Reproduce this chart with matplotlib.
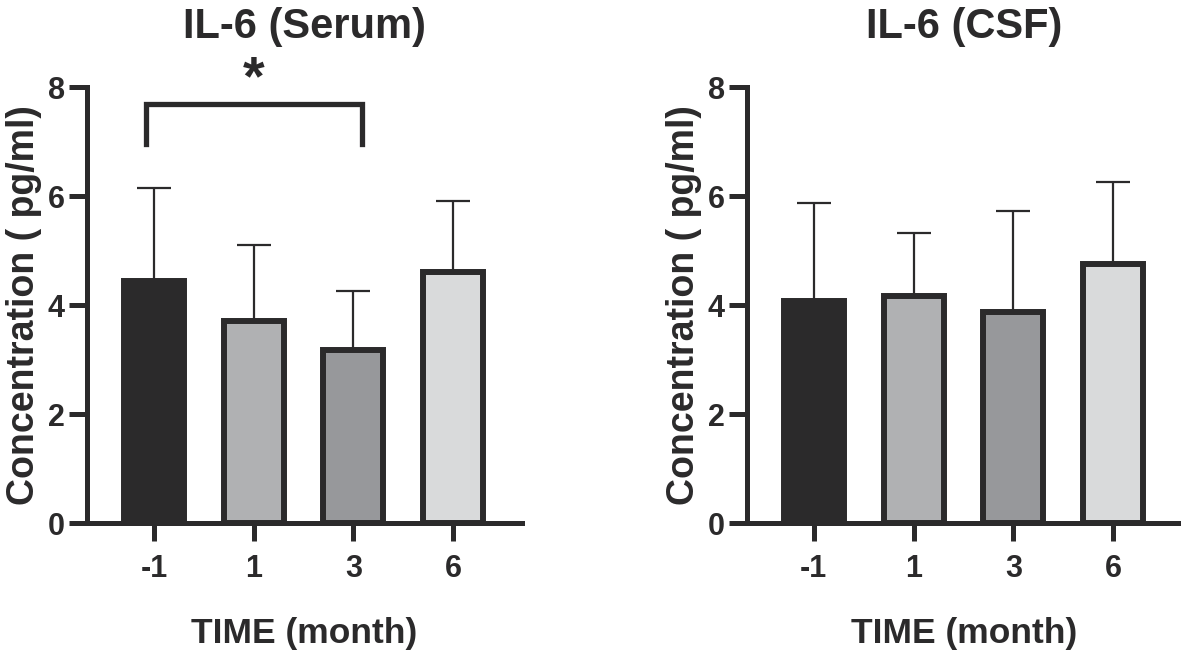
import matplotlib
matplotlib.use('Agg')
import matplotlib.pyplot as plt
import numpy as np

plt.rcParams['font.family'] = ['Liberation Sans', 'DejaVu Sans']
plt.rcParams['font.weight'] = 'bold'

# data
months = ['-1', '1', '3', '6']
serum_mean = [4.45, 3.71, 3.18, 4.60]
serum_sd = [1.70, 1.39, 1.08, 1.31]
csf_mean = [4.08, 4.17, 3.88, 4.76]
csf_sd = [1.79, 1.15, 1.84, 1.50]

bar_colors = ['#2b2a2b', '#b0b1b3', '#97989b', '#d9dadb']
ink = '#2b2a2b'

fig = plt.figure(figsize=(11.81, 6.51), dpi=100)
ax1 = fig.add_axes([0.0737, 0.1966, 0.3683, 0.6697])
ax2 = fig.add_axes([0.6325, 0.1966, 0.3683, 0.6697])


def draw_panel(ax, means, sds, title):
    x = np.arange(len(months))
    ax.errorbar(x, means, yerr=[np.zeros(len(sds)), sds], fmt='none',
                ecolor=ink, elinewidth=1.6, capsize=12, capthick=1.6, zorder=1)
    ax.bar(x, means, width=0.6, color=bar_colors, edgecolor=ink,
           linewidth=4.3, zorder=2)
    ax.set_xlim(-0.67, 3.69)
    ax.set_ylim(0, 8)
    ax.set_yticks([0, 2, 4, 6, 8])
    ax.set_xticks(x)
    ax.set_xticklabels(months)
    for s in ['top', 'right']:
        ax.spines[s].set_visible(False)
    for s in ['left', 'bottom']:
        ax.spines[s].set_linewidth(3.6)
        ax.spines[s].set_color(ink)
    ax.tick_params(axis='both', width=3.6, length=13, color=ink,
                   labelsize=22, labelcolor=ink)
    ax.tick_params(axis='y', pad=3)
    ax.tick_params(axis='x', pad=9)
    ax.set_title(title, fontsize=30, fontweight='bold', color=ink, pad=35)
    ax.set_xlabel('TIME (month)', fontsize=25.5, fontweight='bold', color=ink,
                  labelpad=24)
    ax.set_ylabel('Concentration ( pg/ml)', fontsize=27, fontweight='bold',
                  color=ink, labelpad=4)


draw_panel(ax1, serum_mean, serum_sd, 'IL-6 (Serum)')
draw_panel(ax2, csf_mean, csf_sd, 'IL-6 (CSF)')

# significance bracket between -1 and 3 months
ax1.plot([-0.08, -0.08, 2.09, 2.09], [6.95, 7.69, 7.69, 6.95], color=ink,
         linewidth=3.8, solid_joinstyle='miter', clip_on=False)
ax1.text(1.0, 7.86, '*', ha='center', va='baseline', fontsize=40,
         fontweight='bold', color=ink, clip_on=False)

fig.savefig('out.png', dpi=100)
